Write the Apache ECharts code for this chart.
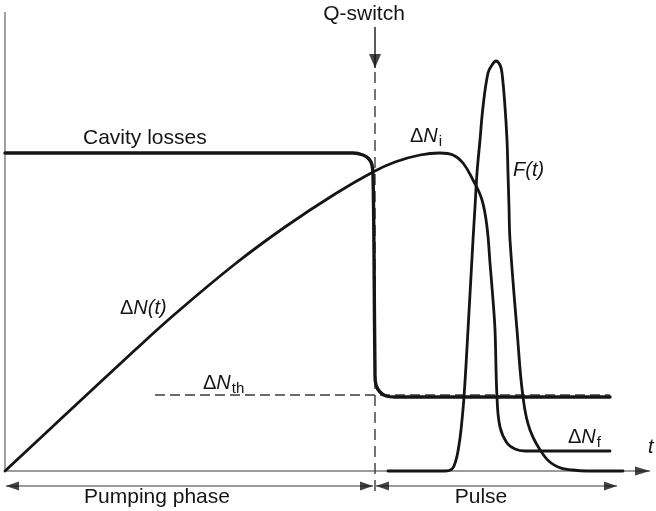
<!DOCTYPE html>
<html>
<head>
<meta charset="utf-8">
<script src="https://cdn.jsdelivr.net/npm/echarts@6/dist/echarts.min.js"></script>
<style>
  html, body { margin: 0; padding: 0; background: #fff; }
  #chart { width: 656px; height: 511px; }
</style>
</head>
<body>
<div id="chart"></div>
<script>
// Q-switched laser: cavity losses, population inversion ΔN(t) and photon flux F(t).
// x = time, y = level (arbitrary units, baseline at 0).

const cavityLosses = [[0,318],[348,318],[358,316],[364,312],[367,306],[368,296],[369,221],[370,96],[371,86],[375,79],[381,75],[390,74],[605,74]];
const inversion = [[0,0],[60,56],[130,121],[170,157],[230,207],[280,244],[330,277],[368,299],[390,309],[415,316],[435,318],[448,316],[458,308],[468,291],[477,271],[482,244],[485,208],[488,171],[490,141],[492,74],[495,44],[502,28],[510,22],[520,20],[605,20]];
const photonFlux = [[383,0],[440,0],[447,2],[451,11],[454,26],[456,41],[459,74],[463,141],[468,231],[470,264],[472,298],[475,331],[478,364],[483,398],[487,406],[491,410],[495,406],[497,398],[500,364],[502,331],[503,298],[504,264],[505,231],[512,141],[518,74],[525,41],[540,14],[553,4],[568,1],[582,0],[618,0]];
const threshold = [[150,76],[605,76]];
const qSwitchLine = [[370,399],[370,-26]];
const levelAxis = [[0,0],[0,459]];
const timeAxis = [[0,0],[645,0]];
const qSwitchArrow = [[370,444],[370,403]];
const pumpingSpan = [[1,-15],[368,-15]];
const pulseSpan = [[371,-15],[612,-15]];

const FONT = '"Liberation Sans", Arial, Helvetica, sans-serif';
const INK = '#151515';
const GREY = '#7a7a7a';

const chart = echarts.init(document.getElementById('chart'), null, { renderer: 'canvas' });

function curve(data, width, extra) {
  return Object.assign({
    type: 'line', data: data, symbol: 'none', smooth: 0.4, silent: true, animation: false, clip: false,
    lineStyle: { color: INK, width: width, cap: 'round', join: 'round' }
  }, extra || {});
}
function straight(data, color, width, type, z) {
  return {
    type: 'line', data: data, symbol: 'none', smooth: false, silent: true, animation: false, clip: false, z: z || 1,
    lineStyle: { color: color, width: width, type: type || 'solid' }
  };
}

// arrowhead at the "tip" end of a segment, pointing away from "from"
function head(from, tip, w, len) {
  const th = Math.atan2(tip[1] - from[1], tip[0] - from[0]);
  return {
    value: tip,
    symbolSize: [w, len],
    symbolRotate: th * 180 / Math.PI - 90,
    symbolOffset: [-Math.cos(th) * len / 2, Math.sin(th) * len / 2]
  };
}
const heads = [
  head(qSwitchArrow[0], qSwitchArrow[1], 12, 14),
  head(timeAxis[0], timeAxis[1], 9, 15),
  head(pumpingSpan[1], pumpingSpan[0], 9, 13),
  head(pumpingSpan[0], pumpingSpan[1], 9, 13),
  head(pulseSpan[1], pulseSpan[0], 9, 13),
  head(pulseSpan[0], pulseSpan[1], 9, 13)
];

chart.setOption({
  animation: false,
  grid: { left: 0, right: 0, top: 0, bottom: 0 },
  xAxis: { type: 'value', min: -5, max: 651, show: false },
  yAxis: { type: 'value', min: -40, max: 471, show: false },
  series: [
    straight(levelAxis, GREY, 1.4),
    straight(timeAxis, GREY, 1.4),
    straight(pumpingSpan, GREY, 1.4),
    straight(pulseSpan, GREY, 1.4),
    straight(qSwitchArrow, INK, 1.4),
    straight(threshold, '#3a3a3a', 1.5, [10, 5]),
    straight(qSwitchLine, '#3a3a3a', 1.4, [11, 6]),
    curve(cavityLosses, 3.4, { smooth: 0.35 }),
    curve(inversion, 2.8),
    curve(photonFlux, 2.8),
    {
      type: 'scatter', data: heads, symbol: 'triangle', silent: true, animation: false, clip: false, z: 5,
      itemStyle: { color: INK }
    }
  ]
});

// annotations, anchored in data coordinates
const plainLabels = [
  { text: 'Q-switch', at: [359, 457], align: 'center' },
  { text: 'Cavity losses', at: [78, 333], align: 'left' },
  { text: 'Pumping phase', at: [152, -26], align: 'center' },
  { text: 'Pulse', at: [476, -26], align: 'center' }
];
// parts: [text, style] with style n = upright, i = italic, s = subscript
const mathLabels = [
  { parts: [['Δ', 'n'], ['N(t)', 'i']], at: [115, 163] },
  { parts: [['Δ', 'n'], ['N', 'i'], ['th', 's']], at: [198, 88] },
  { parts: [['Δ', 'n'], ['N', 'i'], ['i', 's']], at: [405, 335] },
  { parts: [['Δ', 'n'], ['N', 'i'], ['f', 's']], at: [563, 34] },
  { parts: [['F(t)', 'i']], at: [508, 301] },
  { parts: [['t', 'i']], at: [643, 24] }
];

const measureCtx = document.createElement('canvas').getContext('2d');
function fontOf(kind) {
  if (kind === 'i') return 'italic 20px ' + FONT;
  if (kind === 's') return '15px ' + FONT;
  return '20px ' + FONT;
}

const graphics = [];
plainLabels.forEach(function (l) {
  const p = chart.convertToPixel({ gridIndex: 0 }, l.at);
  graphics.push({
    type: 'text', x: p[0], y: p[1], silent: true,
    style: { text: l.text, font: '21px ' + FONT, fill: INK, align: l.align, verticalAlign: 'middle' }
  });
});
mathLabels.forEach(function (l) {
  const p = chart.convertToPixel({ gridIndex: 0 }, l.at);
  let x = p[0];
  l.parts.forEach(function (part) {
    const f = fontOf(part[1]);
    measureCtx.font = f;
    graphics.push({
      type: 'text', x: x, y: p[1] + (part[1] === 's' ? 6 : 0), silent: true,
      style: { text: part[0], font: f, fill: INK, align: 'left', verticalAlign: 'middle' }
    });
    x += measureCtx.measureText(part[0]).width + (part[1] === 'i' ? 1 : 0);
  });
});
chart.setOption({ graphic: graphics });
</script>
</body>
</html>
